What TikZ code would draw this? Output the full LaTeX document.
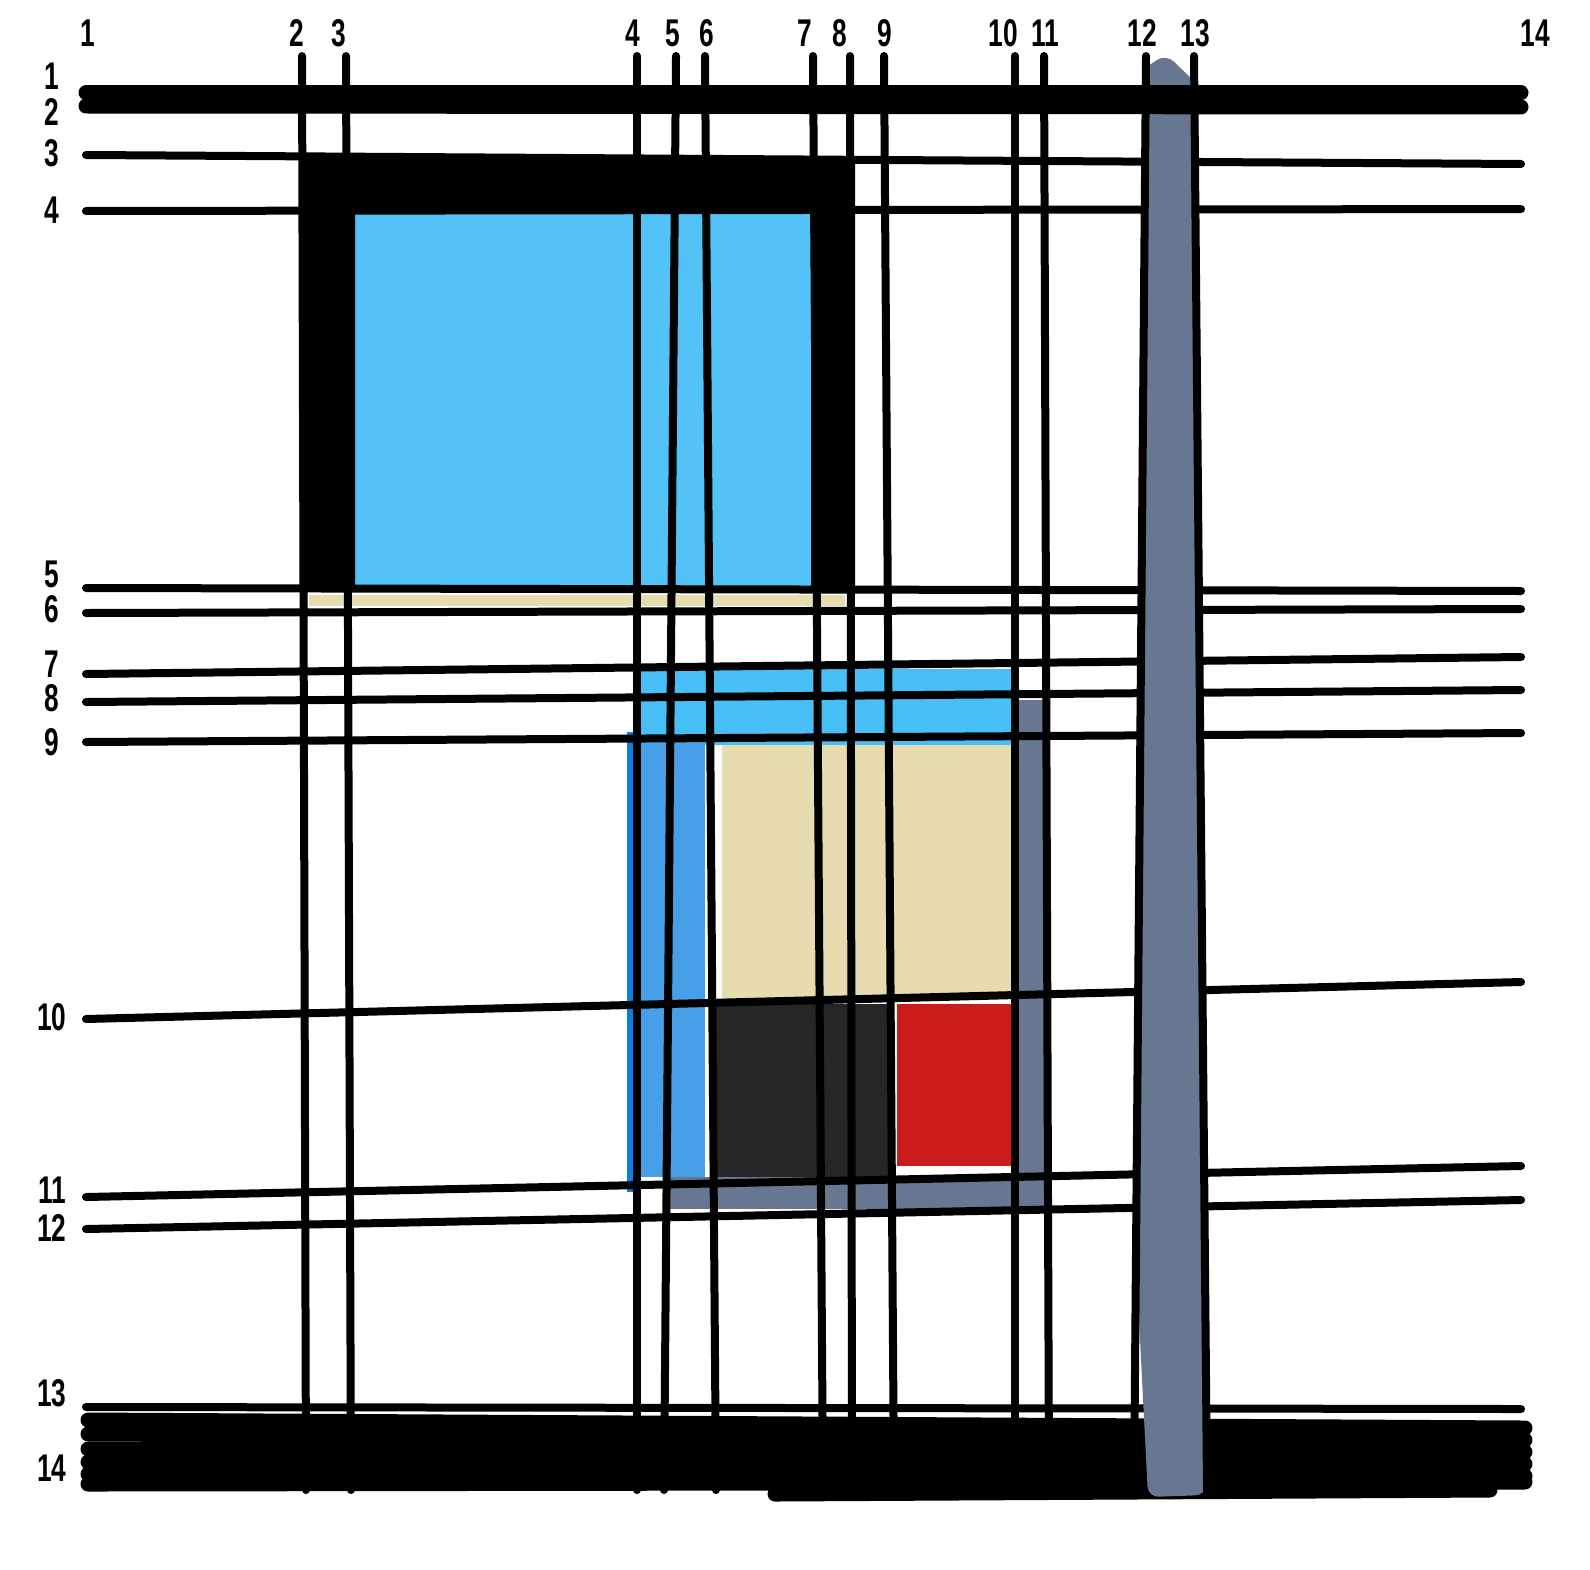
\documentclass[tikz,border=0pt]{standalone}
\usepackage{fontspec}
\setmainfont{Liberation Sans}
\newfontfamily\handfont[FakeStretch=0.68]{Liberation Sans}
\usepackage{tikz}
\definecolor{skyblue}{HTML}{0AA8F2}
\definecolor{royalblue}{HTML}{0A7FE0}
\definecolor{sand}{HTML}{E6DCB0}
\definecolor{slate}{HTML}{687791}
\definecolor{brick}{HTML}{CC1B1B}

\begin{document}
\begin{tikzpicture}[
  x=0.1mm, y=-0.1mm,
  gridline/.style={line width=0.8mm, line cap=round},
  heavy/.style={line width=1.5mm, line cap=round},
  num/.style={font=\handfont\bfseries\fontsize{11}{13}\selectfont, inner sep=0pt}
]
  \useasboundingbox (0,0) rectangle (1590,1569);

  % coloured blocks
  \fill[skyblue!70!white] (355,213) rectangle (811,590);
  \fill[sand] (309,595) rectangle (845,606);
  \fill[skyblue!75!white] (641,669) rectangle (1011,745);
  \fill[royalblue!75!white] (641,735) rectangle (705,1177);
  \draw[royalblue, line width=0.6mm] (630,732) -- (630,1192);
  \fill[sand] (722,745) rectangle (1011,999);
  \fill[black!85] (716,1004) rectangle (892,1177);
  \fill[brick] (897,1004) rectangle (1011,1166);
  \fill[slate] (1019,700) rectangle (1045,1209);
  \fill[slate] (669,1177) rectangle (1045,1209);

  % bottom band
  \foreach \ya/\yb in {1420/1428, 1434/1440, 1449/1452, 1462/1464, 1474/1476, 1484/1482}
    \draw[heavy] (88,\ya) -- (1525,\yb);
  \draw[heavy] (775,1494) -- (1490,1490);

  % horizontal grid lines
  \foreach \ya/\yb in {155/164, 211/209, 588/591, 613/609, 674/657, 702/690, 742/733, 1019/982, 1197/1166, 1229/1200, 1407/1409}
    \draw[gridline] (86,\ya) -- (1521,\yb);

  % vertical grid lines
  \foreach \xa/\xb in {302/306, 346/351, 637/637, 676/664, 705/716, 813/823, 850/852, 884/894, 1015/1015, 1044/1049}
    \draw[gridline] (\xa,56) -- (\xb,1490);

  % tall slate column
  \fill[slate, rounded corners=3pt] (1142,70) -- (1166,54) -- (1198,85) -- (1206,1495) -- (1148,1497) -- (1138,1300) -- cycle;
  \draw[gridline] (1146,56) -- (1134,1490);
  \draw[gridline] (1194,56) -- (1207,1490);

  % top band
  \draw[heavy] (86,93) -- (1521,93);
  \draw[heavy] (86,106) -- (1521,107);

  % black frame
  \fill (302,155) -- (855,160) -- (855,588) -- (811,588) -- (811,213) -- (355,213) -- (355,590) -- (302,590) -- cycle;

  % column numbers
  \foreach \x/\n in {88/1, 297/2, 339/3, 633/4, 673/5, 707/6, 805/7, 840/8, 885/9, 1003/10, 1045/11, 1142/12, 1195/13, 1535/14}
    \node[num] (col\n) at (\x,33) {\n};

  % row numbers
  \foreach \y/\n in {76/1, 112/2, 153/3, 210/4, 574/5, 609/6, 664/7, 698/8, 742/9, 1017/10, 1190/11, 1228/12, 1393/13, 1468/14}
    \node[num] (row\n) at (52,\y) {\n};
\end{tikzpicture}
\end{document}
